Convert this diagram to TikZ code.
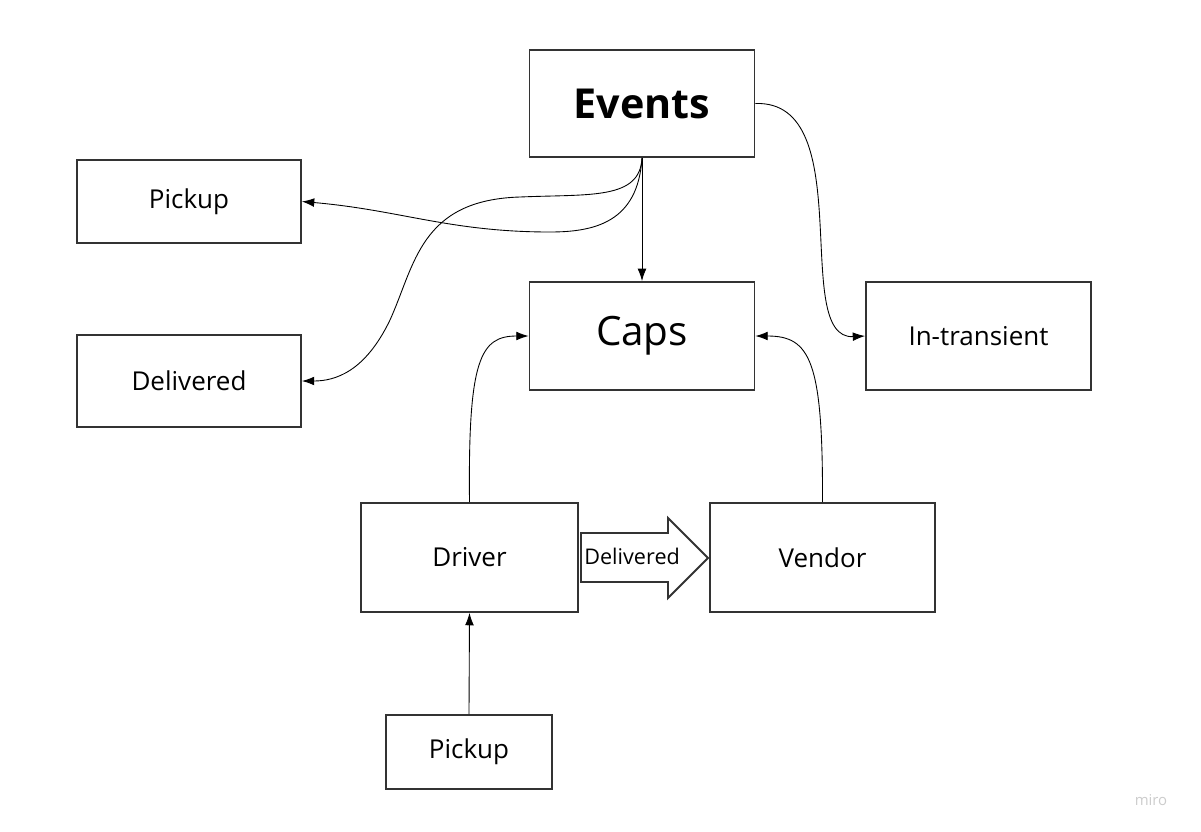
\documentclass[tikz,border=0pt]{standalone}
\usepackage{fontspec}
\setmainfont{Open Sans}
\usetikzlibrary{arrows.meta}
\definecolor{boxline}{HTML}{333333}
\tikzset{
  box/.style={draw=boxline,line width=1.1pt,minimum width=4.5cm,minimum height=1.7cm,inner sep=0pt,font=\fontsize{14.8}{17}\selectfont},
  link/.style={black,line width=0.5pt,-{Latex[length=7pt,width=5pt]}}
}
\begin{document}
\begin{tikzpicture}[x=0.02cm,y=-0.02cm]
\useasboundingbox (0,0) rectangle (1201,832);
% boxes
\node[box,minimum height=2.14cm,font=\fontsize{23.5}{26}\selectfont\bfseries] (events) at (642,103.5) {Events};
\node[box,minimum width=4.48cm,minimum height=1.66cm] (pickupl) at (189,201.5) {Pickup};
\node[box,minimum width=4.48cm,minimum height=1.84cm] (delivered) at (189,381) {Delivered};
\node[box,minimum height=2.16cm,font=\fontsize{23}{26}\selectfont] (caps) at (642,336) {Caps};
\node[box,minimum height=2.16cm] (transient) at (978.5,336) {In-transient};
\node[box,minimum width=4.34cm,minimum height=2.18cm] (driver) at (469.5,557.5) {Driver};
\node[box,minimum height=2.18cm] (vendor) at (822.5,557.5) {Vendor};
\node[box,minimum width=3.32cm,minimum height=1.48cm] (pickupb) at (469,752) {Pickup};
% block arrow
\draw[boxline,line width=1.1pt,line join=miter]
 (581,533) -- (668,533) -- (668,518) -- (708,558) -- (668,598) -- (668,582) -- (581,582) -- cycle;
\node[font=\fontsize{12.3}{14}\selectfont,anchor=west,inner sep=0pt] (deliv) at (584,556) {Delivered};
% connectors
\draw[link] (events.south) -- (caps.north);
\draw[link] (events.south) .. controls (638,222) and (595,232) .. (550,232)
 .. controls (450,232) and (400,210) .. (pickupl.east);
\draw[link] (events.south) .. controls (640,200) and (590,194) .. (520,197)
 .. controls (420,200) and (415,265) .. (390,320) .. controls (365,372) and (335,381) .. (delivered.east);
\draw[link] (events.east) .. controls (860,100) and (790,340) .. (transient.west);
\draw[link] (driver.north) .. controls (468,360) and (480,336) .. (caps.west);
\draw[link] (vendor.north) .. controls (823,360) and (810,336) .. (caps.east);
\draw[link] (pickupb.north) -- (driver.south);
% watermark
\node[text=gray!40,font=\fontsize{8.5}{10}\selectfont] (miro) at (1151,800) {miro};
\end{tikzpicture}
\end{document}
